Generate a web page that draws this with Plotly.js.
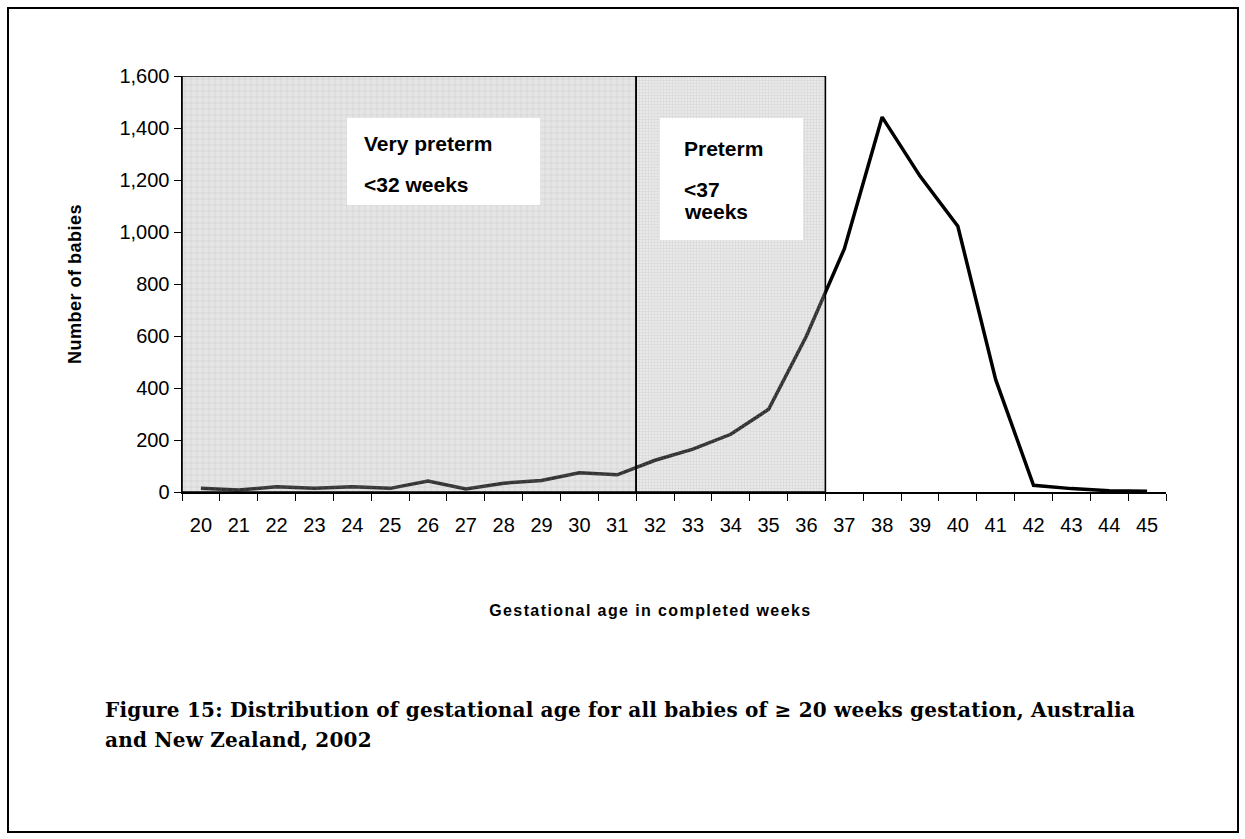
<!DOCTYPE html>
<html>
<head>
<meta charset="utf-8">
<script src="https://cdn.plot.ly/plotly-3.0.1.min.js"></script>
<style>
  html, body { margin: 0; padding: 0; background: #fff; }
  #wrap { position: relative; width: 1245px; height: 839px; }
  #chart { position: absolute; left: 0; top: 0; width: 1245px; height: 839px; }
  #frame { position: absolute; left: 7px; top: 7px; width: 1228px; height: 822px; border: 2px solid #000; pointer-events: none; }
  #caption { position: absolute; left: 105px; top: 695px; font-family: "DejaVu Serif", "Liberation Serif", serif; font-weight: bold; font-size: 20px; letter-spacing: 0.2px; line-height: 30px; color: #000; white-space: nowrap; }
  .annotation[data-index="6"] .annotation-text { letter-spacing: 1.4px; }
  .annotation[data-index="7"] .annotation-text { letter-spacing: 0.5px; }
</style>
</head>
<body>
<div id="wrap">
  <div id="chart"></div>
  <div id="frame"></div>
  <div id="caption">Figure 15: Distribution of gestational age for all babies of ≥ 20 weeks gestation, Australia<br>and New Zealand, 2002</div>
</div>
<script>
// Gestational age (completed weeks)
const weeks = [20, 21, 22, 23, 24, 25, 26, 27, 28, 29, 30, 31, 32, 33, 34, 35, 36, 37, 38, 39, 40, 41, 42, 43, 44, 45];
// Number of babies
const babies = [14, 8, 20, 14, 20, 14, 42, 12, 34, 44, 74, 66, 122, 165, 222, 318, 600, 935, 1442, 1215, 1022, 432, 26, 13, 5, 3];

// Shaded gestation bands (category boundaries)
const bandNames = ["Very preterm", "Preterm"];
const bandStart = [19.5, 31.5];
const bandEnd = [31.5, 36.5];
const yMax = 1600;

// Band label text
const bandLabelLine1 = ["Very preterm", "Preterm"];
const bandLabelLine2 = ["<32 weeks", "<37"];
const bandLabelLine3 = ["", "weeks"];

const yTicks = [0, 200, 400, 600, 800, 1000, 1200, 1400, 1600];
const xTitle = "Gestational age in completed weeks";
const yTitle = "Number of babies";

const traces = [];
traces.push({
  x: weeks, y: babies, type: 'scatter', mode: 'lines',
  line: { color: '#000', width: 3.5 }, hoverinfo: 'x+y', showlegend: false
});
const bandStyles = [
  { fillcolor: 'rgba(170,170,170,0.32)', pattern: { shape: '+', size: 6, solidity: 0.12, fgcolor: 'rgba(150,150,150,0.45)', bgcolor: 'rgba(170,170,170,0.30)', fillmode: 'replace' } },
  { fillcolor: 'rgba(170,170,170,0.32)', pattern: { shape: '+', size: 3, solidity: 0.2, fgcolor: 'rgba(160,160,160,0.40)', bgcolor: 'rgba(170,170,170,0.28)', fillmode: 'replace' } }
];
for (let i = 0; i < bandStart.length; i++) {
  traces.push({
    x: [bandStart[i], bandEnd[i], bandEnd[i], bandStart[i], bandStart[i]],
    y: [0, 0, yMax, yMax, 0],
    type: 'scatter', mode: 'lines', fill: 'toself',
    fillcolor: bandStyles[i].fillcolor,
    fillpattern: bandStyles[i].pattern,
    line: { color: '#000', width: 1.6 },
    name: bandNames[i], hoverinfo: 'name', showlegend: false
  });
}

const shapes = [
  { type: 'rect', xref: 'x', yref: 'y', x0: 23.86, x1: 28.96, y0: 1104, y1: 1438, fillcolor: '#fff', line: { width: 0 }, layer: 'above' },
  { type: 'rect', xref: 'x', yref: 'y', x0: 32.13, x1: 35.91, y0: 969, y1: 1438, fillcolor: '#fff', line: { width: 0 }, layer: 'above' }
];

const font = { family: 'Liberation Sans, Arial, sans-serif', color: '#000' };
const f = (s) => Object.assign({}, font, { size: s });
const esc = (s) => s.replace(/</g, '&lt;');
const annotations = [
  { xref: 'x', yref: 'y', x: 24.26, y: 1342, xanchor: 'left', yanchor: 'middle', text: '<b>' + esc(bandLabelLine1[0]) + '</b>', showarrow: false, font: f(21) },
  { xref: 'x', yref: 'y', x: 24.26, y: 1181, xanchor: 'left', yanchor: 'middle', text: '<b>' + esc(bandLabelLine2[0]) + '</b>', showarrow: false, font: f(21) },
  { xref: 'x', yref: 'y', x: 32.71, y: 1323, xanchor: 'left', yanchor: 'middle', text: '<b>' + esc(bandLabelLine1[1]) + '</b>', showarrow: false, font: f(21) },
  { xref: 'x', yref: 'y', x: 32.71, y: 1162, xanchor: 'left', yanchor: 'middle', text: '<b>' + esc(bandLabelLine2[1]) + '</b>', showarrow: false, font: f(21) },
  { xref: 'x', yref: 'y', x: 32.71, y: 1077, xanchor: 'left', yanchor: 'middle', text: '<b>' + esc(bandLabelLine3[1]) + '</b>', showarrow: false, font: f(21) },
  { xref: 'x', yref: 'y', x: 24.26, y: 1000, xanchor: 'left', yanchor: 'middle', text: esc(bandLabelLine3[0]), showarrow: false, font: f(21) },
  { xref: 'paper', yref: 'paper', x: 0.4766, y: 0, xanchor: 'center', yanchor: 'middle', yshift: -118, text: '<b>' + xTitle + '</b>', showarrow: false, font: f(16) },
  { xref: 'paper', yref: 'paper', x: 0, y: 0.5, xanchor: 'center', yanchor: 'middle', xshift: -107, textangle: -90, text: '<b>' + yTitle + '</b>', showarrow: false, font: f(18) }
];

const layout = {
  width: 1245, height: 839,
  margin: { l: 182, r: 79, t: 76, b: 347 },
  paper_bgcolor: '#fff', plot_bgcolor: '#fff',
  showlegend: false,
  font: font,
  xaxis: {
    range: [19.5, 45.5], tickmode: 'array', tickvals: weeks, ticktext: weeks.map(String),
    ticks: '', showgrid: false, zeroline: false, showline: true, linecolor: '#000', linewidth: 1.5,
    tickfont: f(20), ticklabelstandoff: 14,
    minor: { tick0: 19.5, dtick: 1, ticks: 'outside', ticklen: 7, tickcolor: '#000', tickwidth: 1, showgrid: false },
    fixedrange: true
  },
  yaxis: {
    range: [0, yMax], tickmode: 'array', tickvals: yTicks, tickformat: ',d',
    ticks: 'outside', ticklen: 7, tickcolor: '#000', tickwidth: 1,
    showgrid: false, zeroline: false, showline: true, linecolor: '#000', linewidth: 1.5,
    tickfont: f(20),
    fixedrange: true
  },
  shapes: shapes,
  annotations: annotations
};

Plotly.newPlot('chart', traces, layout, { displayModeBar: false, staticPlot: true });
</script>
</body>
</html>
